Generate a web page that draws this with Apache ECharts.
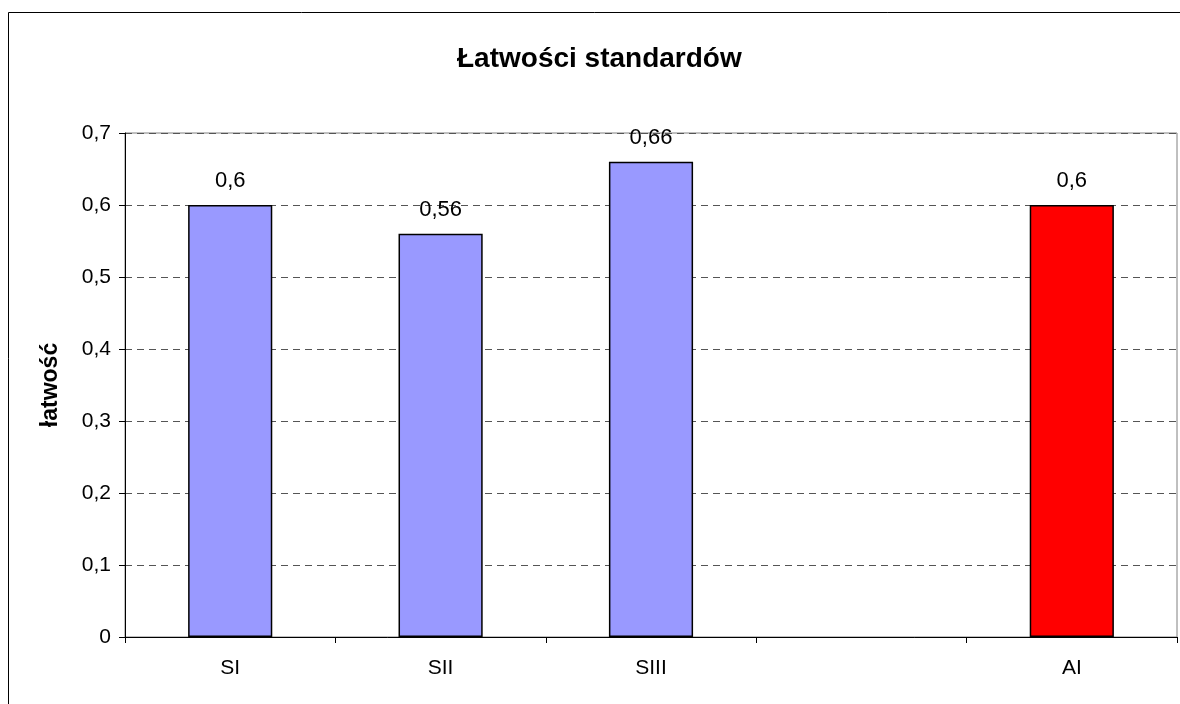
<!DOCTYPE html>
<html>
<head>
<meta charset="utf-8">
<style>
  html, body { margin: 0; padding: 0; background: #fff; }
  #chart { width: 1180px; height: 704px; }
</style>
<script src="https://cdn.jsdelivr.net/npm/echarts@6/dist/echarts.min.js"></script>
</head>
<body>
<div id="chart"></div>
<script>
// Categories along the x axis (the fourth slot is an empty spacer)
const categories = ['SI', 'SII', 'SIII', '', 'AI'];
// Łatwość (facility index) for each standard
const values = [0.6, 0.56, 0.66, null, 0.6];
// Y axis range and step
const yMin = 0;
const yMax = 0.7;
const yStep = 0.1;

const FONT = '"Liberation Sans", Arial, sans-serif';
const fmtComma = v => String(+v.toFixed(2)).replace('.', ',');

const chart = echarts.init(document.getElementById('chart'), null, { renderer: 'canvas' });

chart.setOption({
  backgroundColor: '#ffffff',
  animation: false,
  textStyle: { fontFamily: FONT },
  title: {
    text: 'Łatwości standardów',
    left: 452,
    top: 40,
    textStyle: { fontFamily: FONT, fontSize: 28, fontWeight: 'bold', color: '#000' }
  },
  graphic: [{
    type: 'rect',
    shape: { x: 8.5, y: 12.5, width: 1300, height: 800 },
    style: { fill: 'none', stroke: '#000', lineWidth: 1 },
    silent: true,
    z: 100
  }],
  grid: {
    left: 125,
    top: 133,
    right: 3,
    bottom: 67,
    show: true,
    borderColor: '#808080',
    borderWidth: 1,
    backgroundColor: '#fff'
  },
  xAxis: {
    type: 'category',
    data: categories,
    axisLine: { lineStyle: { color: '#000', width: 1 } },
    axisTick: { show: true, length: 6, lineStyle: { color: '#000' } },
    axisLabel: { margin: 21, fontSize: 21, color: '#000', fontFamily: FONT },
    splitLine: { show: false }
  },
  yAxis: {
    type: 'value',
    min: yMin,
    max: yMax,
    interval: yStep,
    name: 'łatwość',
    nameLocation: 'middle',
    nameGap: 63,
    nameRotate: 90,
    nameTextStyle: { fontFamily: FONT, fontSize: 23, fontWeight: 'bold', color: '#000' },
    axisLine: { show: true, lineStyle: { color: '#000', width: 1 } },
    axisTick: { show: true, length: 6, lineStyle: { color: '#000' } },
    axisLabel: {
      margin: 14,
      fontSize: 21,
      color: '#000',
      fontFamily: FONT,
      formatter: v => fmtComma(v)
    },
    splitLine: { show: true, lineStyle: { color: '#555', type: [7, 5], width: 1 } }
  },
  series: [{
    type: 'bar',
    data: values,
    barWidth: '40%',
    itemStyle: {
      color: p => (p.name === 'AI' ? '#ff0000' : '#9999ff'),
      borderColor: '#000',
      borderWidth: 1.5
    },
    label: {
      show: true,
      position: 'top',
      distance: 13,
      fontSize: 22,
      color: '#000',
      fontFamily: FONT,
      formatter: p => fmtComma(p.value)
    }
  }]
});
</script>
</body>
</html>
